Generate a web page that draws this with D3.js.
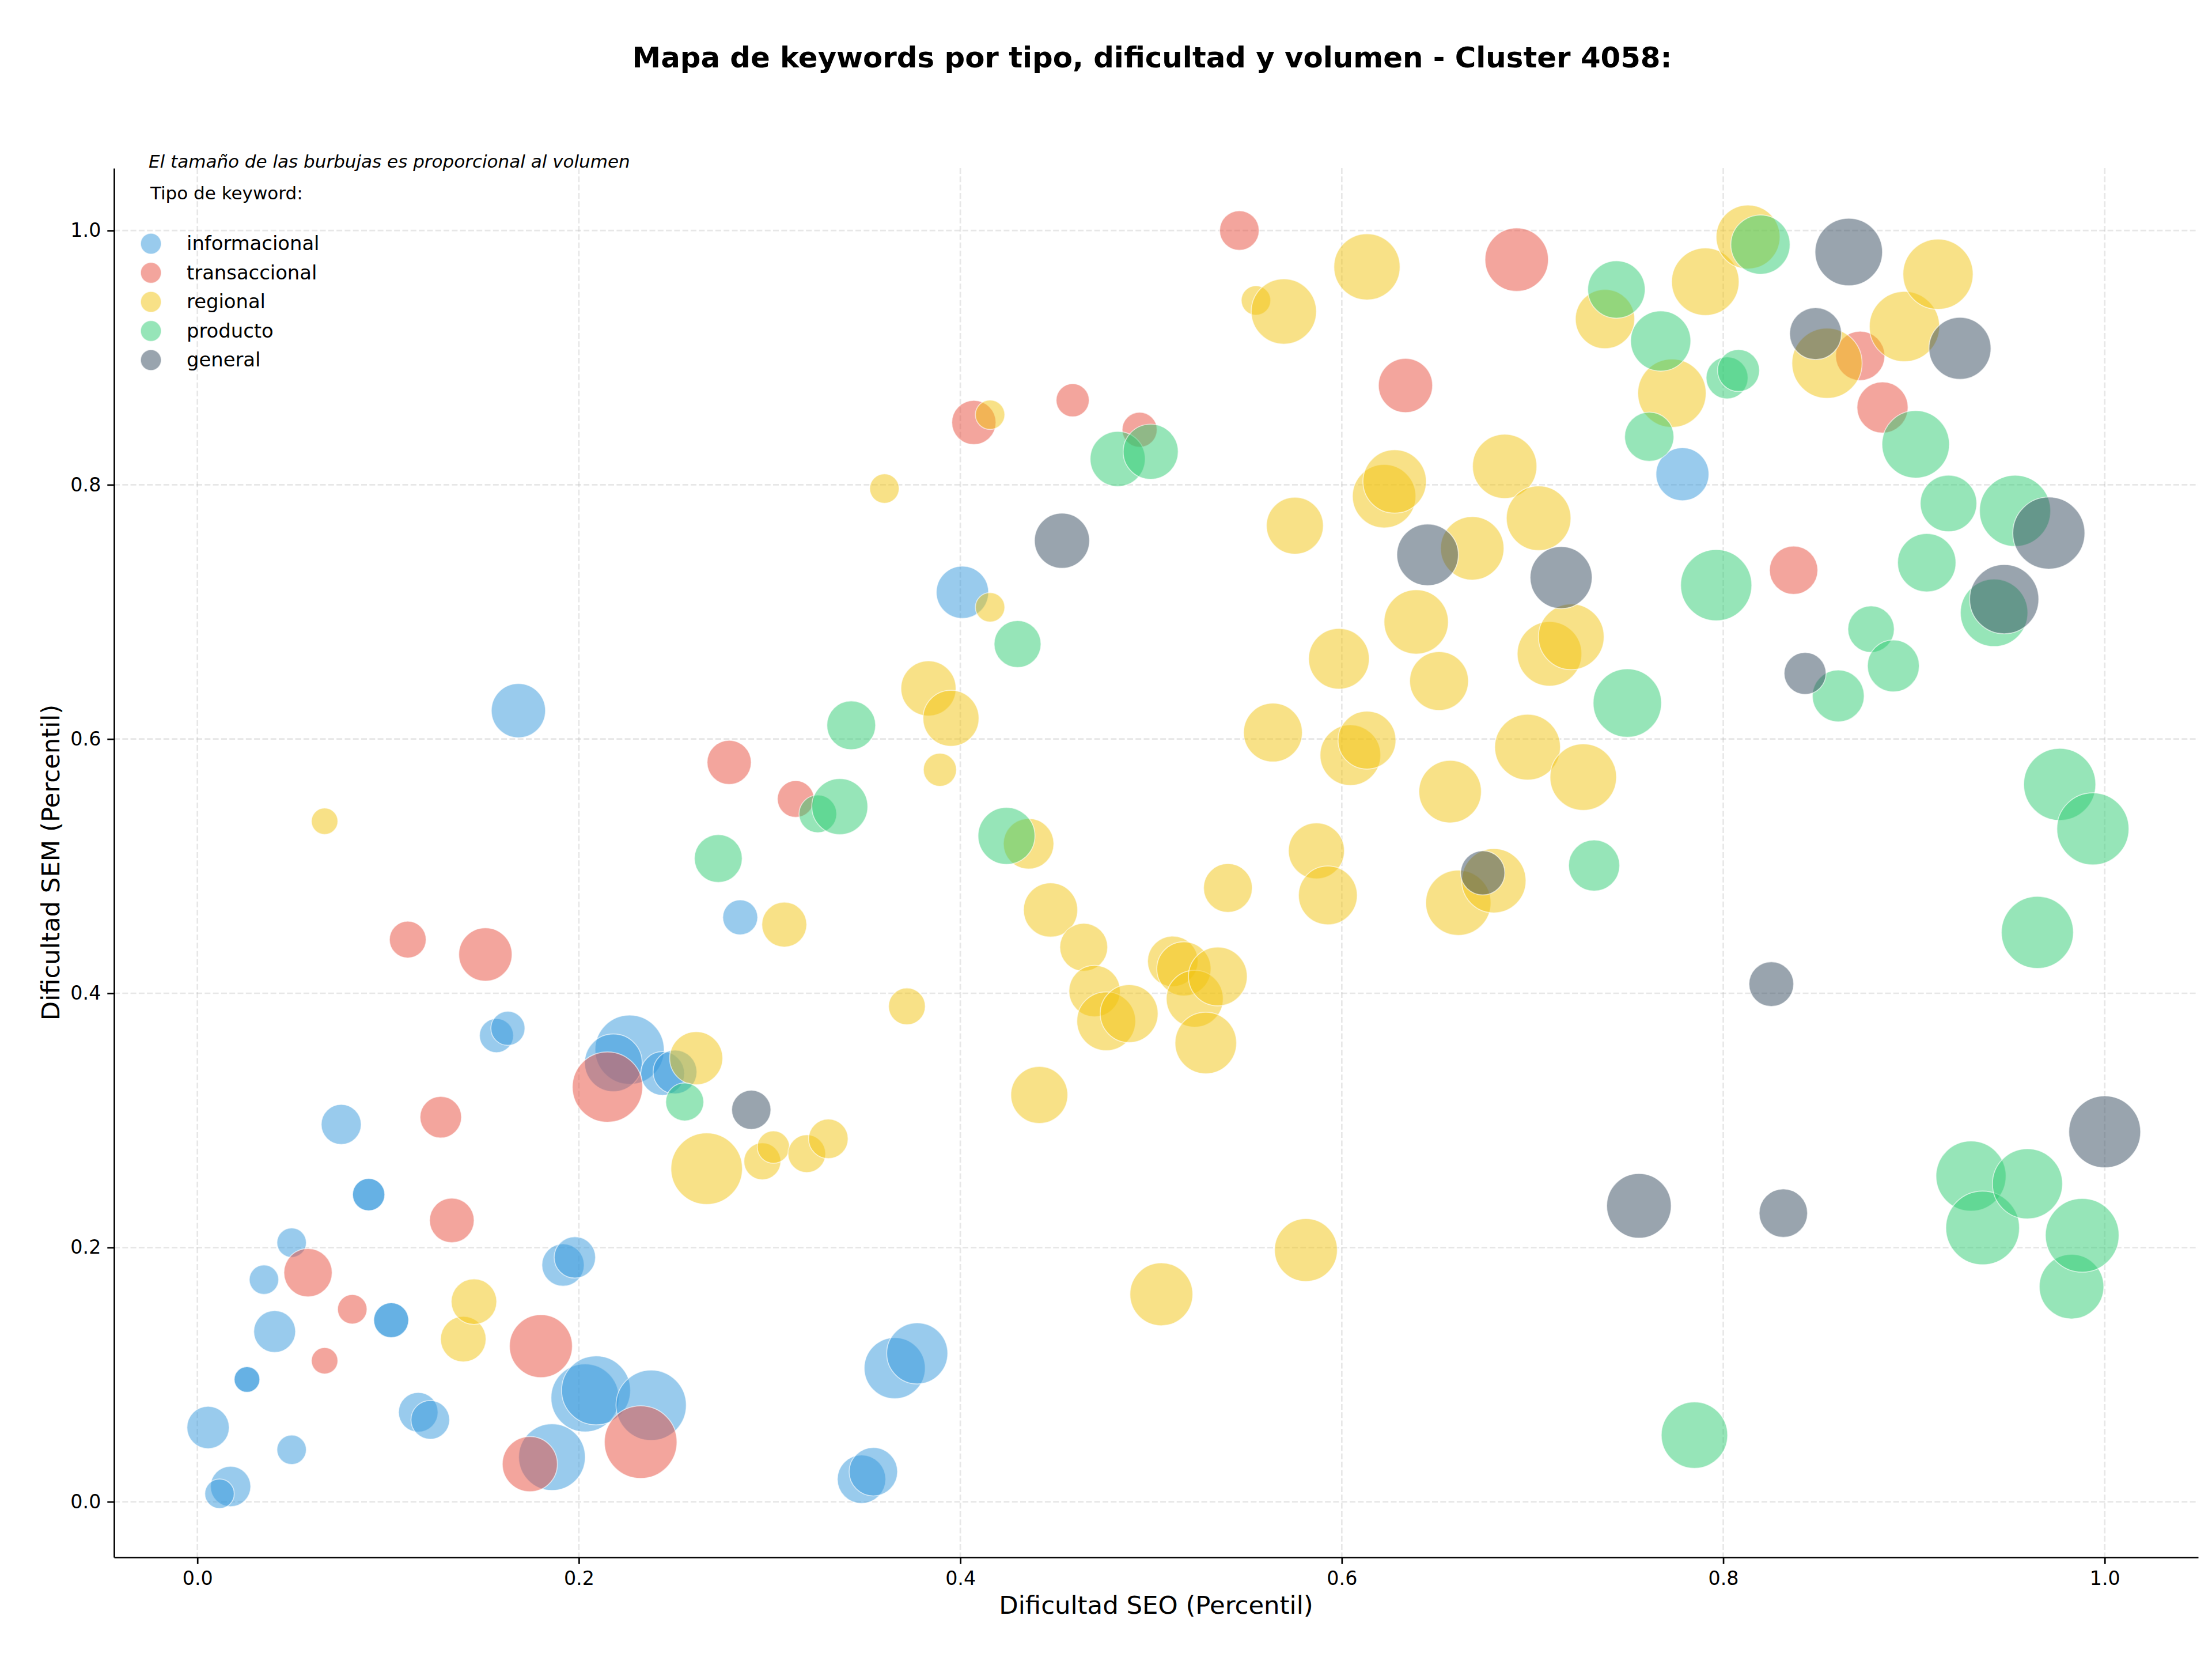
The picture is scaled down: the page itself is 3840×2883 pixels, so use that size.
<!DOCTYPE html>
<html>
<head>
<meta charset="utf-8">
<script src="https://d3js.org/d3.v7.min.js"></script>
<style>
body { margin: 0; background: #fff; }
text { font-family: "DejaVu Sans", sans-serif; fill: #000; }
.grid line { stroke: #b0b0b0; stroke-opacity: 0.3; stroke-width: 2.7; stroke-dasharray: 10,4.3; }
.bubble { stroke: #fff; stroke-width: 1.7; fill-opacity: 0.5; stroke-opacity: 0.6; }
.axis path, .axis line { stroke: #000; stroke-width: 2.7; }
</style>
</head>
<body>
<svg id="chart" width="3840" height="2883"></svg>
<script>

// tipos de keyword y colores
var tipos = ["informacional", "transaccional", "regional", "producto", "general"];
var colores = ["#3498DB", "#E74C3C", "#F1C40F", "#2ECC71", "#34495E"];

// [dificultad SEO, dificultad SEM, volumen]
var informacional = [
    [0.0056, 0.0584, 337], [0.0174, 0.0120, 306], [0.0116, 0.0063, 163], [0.0349, 0.1747, 163],
    [0.0405, 0.1339, 329], [0.0494, 0.2038, 163], [0.0494, 0.0409, 163], [0.026, 0.0962, 124],
    [0.026, 0.0962, 124], [0.0754, 0.2968, 301], [0.0898, 0.2416, 196], [0.0898, 0.2416, 196],
    [0.1016, 0.1428, 230], [0.1016, 0.1428, 230], [0.1158, 0.0704, 294], [0.1221, 0.0644, 281],
    [0.1568, 0.3667, 218], [0.1628, 0.3724, 218], [0.1683, 0.6223, 552], [0.1917, 0.1862, 337],
    [0.1979, 0.1922, 322], [0.1859, 0.0351, 835], [0.2032, 0.0817, 870], [0.209, 0.0876, 894],
    [0.2379, 0.0759, 930], [0.2266, 0.3556, 900], [0.2181, 0.3453, 625], [0.2439, 0.3369, 361],
    [0.2504, 0.3381, 361], [0.2846, 0.4597, 230], [0.3482, 0.0177, 441], [0.3544, 0.0236, 441],
    [0.3656, 0.1051, 702], [0.3774, 0.1167, 702], [0.4011, 0.7154, 515], [0.7786, 0.8083, 527]
];

var transaccional = [
    [0.058, 0.1802, 439], [0.0667, 0.1109, 132], [0.0812, 0.1514, 163], [0.1103, 0.4422, 254],
    [0.1276, 0.3025, 324], [0.1334, 0.2213, 374], [0.151, 0.4305, 534], [0.1743, 0.0296, 571],
    [0.1801, 0.1224, 745], [0.215, 0.3262, 930], [0.2324, 0.0469, 992], [0.2788, 0.5816, 367],
    [0.3137, 0.5528, 254], [0.4071, 0.849, 367], [0.4589, 0.8665, 206], [0.494, 0.8433, 230],
    [0.5463, 1.0, 294], [0.6334, 0.8781, 552], [0.6917, 0.9771, 756], [0.8369, 0.7328, 439],
    [0.8718, 0.9014, 456], [0.8835, 0.8608, 491]
];

var regional = [
    [0.0667, 0.5353, 132], [0.1394, 0.1279, 390], [0.145, 0.1574, 390], [0.2615, 0.3489, 529],
    [0.267, 0.262, 961], [0.2962, 0.2678, 256], [0.302, 0.279, 196], [0.3195, 0.2738, 267],
    [0.3308, 0.2855, 294], [0.3077, 0.454, 380], [0.3602, 0.797, 163], [0.372, 0.3897, 254],
    [0.3833, 0.6398, 571], [0.3893, 0.5758, 206], [0.3951, 0.6163, 590], [0.4156, 0.8551, 163],
    [0.4156, 0.7036, 163], [0.4358, 0.5176, 480], [0.4414, 0.32, 610], [0.4473, 0.4655, 552],
    [0.4647, 0.4362, 431], [0.4704, 0.4017, 497], [0.4765, 0.378, 650], [0.4885, 0.384, 630],
    [0.5054, 0.1632, 743], [0.5114, 0.4251, 480], [0.5172, 0.4192, 552], [0.5229, 0.3957, 610],
    [0.5287, 0.3609, 713], [0.535, 0.4132, 650], [0.5403, 0.4828, 447], [0.555, 0.945, 163],
    [0.5696, 0.9363, 801], [0.5639, 0.6051, 650], [0.5754, 0.7678, 610], [0.5812, 0.198, 743],
    [0.5867, 0.512, 590], [0.5927, 0.477, 650], [0.5985, 0.6631, 692], [0.6045, 0.5873, 692],
    [0.6132, 0.5991, 630], [0.6132, 0.9714, 824], [0.6222, 0.791, 756], [0.6277, 0.8026, 756],
    [0.639, 0.6921, 778], [0.651, 0.6456, 650], [0.6568, 0.5586, 734], [0.6611, 0.4712, 801],
    [0.6684, 0.75, 756], [0.6797, 0.4885, 778], [0.6854, 0.8145, 778], [0.6974, 0.5936, 812],
    [0.7032, 0.7737, 784], [0.7089, 0.667, 784], [0.7203, 0.6804, 812], [0.7266, 0.570, 832],
    [0.738, 0.9304, 660], [0.7731, 0.872, 879], [0.7906, 0.9597, 856], [0.813, 0.9949, 767],
    [0.8544, 0.8956, 927], [0.895, 0.9245, 927], [0.9126, 0.9656, 927]
];

var producto = [
    [0.2555, 0.3145, 272], [0.2731, 0.506, 431], [0.3253, 0.5411, 267], [0.3368, 0.5468, 590],
    [0.3428, 0.6108, 447], [0.4242, 0.5238, 610], [0.43, 0.6747, 414], [0.4825, 0.8203, 571],
    [0.4998, 0.826, 571], [0.7323, 0.5005, 491], [0.744, 0.9536, 620], [0.7497, 0.6283, 879],
    [0.7612, 0.8378, 456], [0.7672, 0.9131, 681], [0.7849, 0.0524, 829], [0.7963, 0.721, 952],
    [0.802, 0.8841, 331], [0.808, 0.8899, 331], [0.8195, 0.9889, 660], [0.8603, 0.6339, 506],
    [0.8775, 0.6864, 406], [0.8892, 0.6575, 506], [0.9009, 0.8318, 856], [0.9067, 0.7387, 640],
    [0.9181, 0.7853, 600], [0.9299, 0.2562, 924], [0.936, 0.2154, 1021], [0.942, 0.6993, 856],
    [0.953, 0.7795, 952], [0.9595, 0.2501, 924], [0.9647, 0.4479, 977], [0.9764, 0.5643, 977],
    [0.9826, 0.1692, 784], [0.9882, 0.2096, 1021], [0.9938, 0.5293, 977]
];

var general = [
    [0.2904, 0.3083, 289], [0.4533, 0.756, 571], [0.645, 0.7449, 713], [0.6739, 0.4947, 367],
    [0.715, 0.727, 724], [0.7558, 0.2328, 784], [0.8252, 0.4072, 376], [0.8315, 0.227, 441],
    [0.8429, 0.6516, 331], [0.8484, 0.9189, 506], [0.8658, 0.9831, 856], [0.9241, 0.9073, 724],
    [0.9473, 0.71, 900], [0.9707, 0.762, 977], [1.0, 0.291, 970]
];

var series = [informacional, transaccional, regional, producto, general];
var ticks = [0, 0.2, 0.4, 0.6, 0.8, 1.0];

var svg = d3.select("#chart");

var x = d3.scaleLinear().domain([-0.0437, 1.049]).range([198, 3816]);
var y = d3.scaleLinear().domain([-0.0437, 1.049]).range([2703, 292]);
var r = d3.scaleSqrt().domain([0, 1000]).range([0, 63.25]);

// grid
var grid = svg.append("g").attr("class", "grid");
grid.selectAll(".gx").data(ticks).enter().append("line")
    .attr("x1", function(d) { return x(d); }).attr("x2", function(d) { return x(d); })
    .attr("y1", y.range()[1]).attr("y2", y.range()[0]);
grid.selectAll(".gy").data(ticks).enter().append("line")
    .attr("y1", function(d) { return y(d); }).attr("y2", function(d) { return y(d); })
    .attr("x1", x.range()[0]).attr("x2", x.range()[1]);

// bubbles, one layer per tipo
series.forEach(function(s, i) {
    svg.append("g").selectAll("circle")
        .data(s)
        .enter().append("circle")
        .attr("class", "bubble")
        .attr("cx", function(d) { return x(d[0]); })
        .attr("cy", function(d) { return y(d[1]); })
        .attr("r", function(d) { return r(d[2]); })
        .attr("fill", colores[i]);
});

// axes
var xAxis = svg.append("g")
    .attr("class", "axis")
    .attr("transform", "translate(0,2703)")
    .call(d3.axisBottom(x).tickValues(ticks).tickFormat(d3.format(".1f")).tickSize(11.7).tickSizeOuter(0).tickPadding(13));
xAxis.selectAll("text").attr("font-size", 33.3).attr("font-family", "DejaVu Sans");

var yAxis = svg.append("g")
    .attr("class", "axis")
    .attr("transform", "translate(198,0)")
    .call(d3.axisLeft(y).tickValues(ticks).tickFormat(d3.format(".1f")).tickSize(11.7).tickSizeOuter(0).tickPadding(11));
yAxis.selectAll("text").attr("font-size", 33.3).attr("font-family", "DejaVu Sans");

// labels
svg.append("text")
    .attr("x", 2000).attr("y", 117)
    .attr("text-anchor", "middle")
    .attr("font-size", 49.8).attr("font-weight", "bold")
    .text("Mapa de keywords por tipo, dificultad y volumen - Cluster 4058:");

svg.append("text")
    .attr("x", 2007).attr("y", 2801)
    .attr("text-anchor", "middle")
    .attr("font-size", 43.4)
    .text("Dificultad SEO (Percentil)");

svg.append("text")
    .attr("transform", "translate(103,1497) rotate(-90)")
    .attr("text-anchor", "middle")
    .attr("font-size", 43.4)
    .text("Dificultad SEM (Percentil)");

svg.append("text")
    .attr("x", 258).attr("y", 291)
    .attr("font-size", 31).attr("font-style", "italic")
    .text("El tamaño de las burbujas es proporcional al volumen");

// legend
svg.append("text")
    .attr("x", 261).attr("y", 346)
    .attr("font-size", 31)
    .text("Tipo de keyword:");

var legend = svg.append("g").selectAll("g")
    .data(tipos)
    .enter().append("g")
    .attr("transform", function(d, i) { return "translate(262," + (423 + i * 50.5) + ")"; });

legend.append("circle")
    .attr("class", "bubble")
    .attr("r", 18)
    .attr("fill", function(d, i) { return colores[i]; });

legend.append("text")
    .attr("x", 62).attr("y", 11)
    .attr("font-size", 33.8)
    .text(function(d) { return d; });

</script>
</body>
</html>
